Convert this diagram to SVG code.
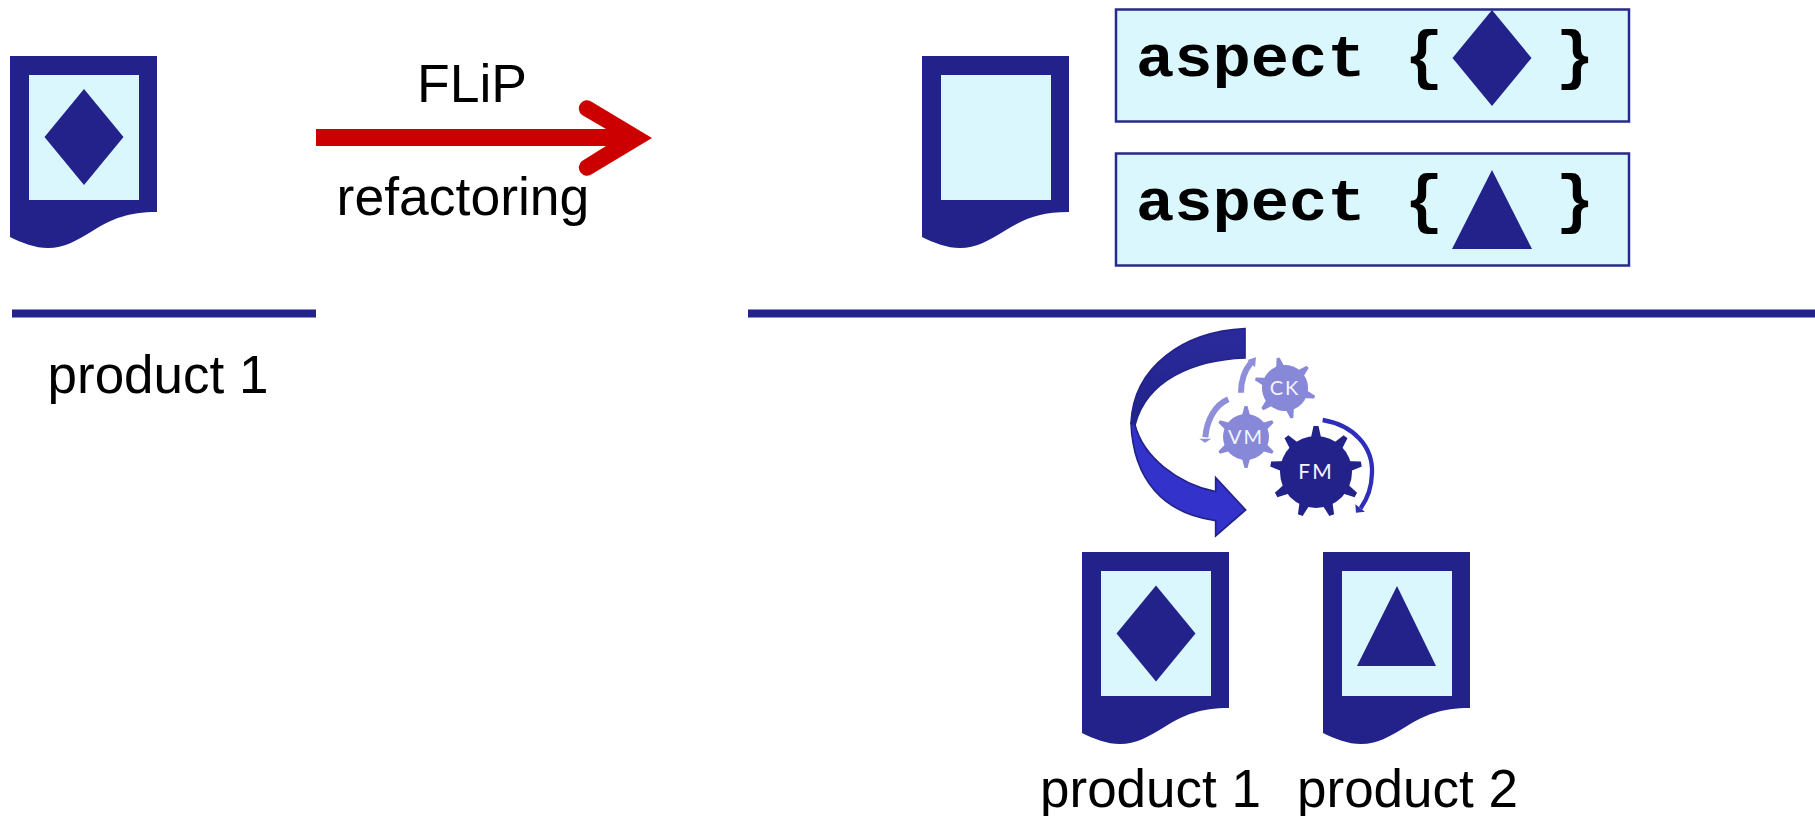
<svg xmlns="http://www.w3.org/2000/svg" xmlns:xlink="http://www.w3.org/1999/xlink" width="1815" height="816" viewBox="0 0 1815 816">
<style>
.navy{fill:#22228a}
.light{fill:#d9f7fc}
.label{font-family:"Liberation Sans",Arial,sans-serif;font-size:53px;fill:#000}
.code{font-family:"Liberation Mono","Courier New",monospace;font-weight:bold;font-size:59px;fill:#000}
.brace{font-family:"Liberation Mono","Courier New",monospace;font-weight:bold;font-size:64px;fill:#000;text-anchor:middle}
.box{fill:#d9f7fc;stroke:#28288f;stroke-width:2.5}
.gt{font-family:"Lato",sans-serif;fill:#f4f4ff;text-anchor:middle;letter-spacing:2px}
.sm{fill:none}
</style>
<defs>
<g id="doc">
<path class="navy" d="M0 0H147V156C118 156 102 163 84 174C66 185 54 192 38 192C25 192 12 187 0 181Z"/>
<rect class="light" x="19" y="19" width="110" height="125"/>
</g>
<polygon id="diamond" class="navy" points="0,-48 39.500,0 0,48 -39.500,0"/>
<polygon id="tooth" points="-6,-30 -2.500,-46 2.500,-46 6,-30"/>
<g id="gear9">
<circle r="36"/>
<use xlink:href="#tooth"/><use xlink:href="#tooth" transform="rotate(40)"/><use xlink:href="#tooth" transform="rotate(80)"/><use xlink:href="#tooth" transform="rotate(120)"/><use xlink:href="#tooth" transform="rotate(160)"/><use xlink:href="#tooth" transform="rotate(200)"/><use xlink:href="#tooth" transform="rotate(240)"/><use xlink:href="#tooth" transform="rotate(280)"/><use xlink:href="#tooth" transform="rotate(320)"/>
</g>
<polygon id="tooth6" points="-5,-18 -1.500,-31 1.500,-31 5,-18"/>
<g id="gear6">
<circle r="23"/>
<use xlink:href="#tooth6"/><use xlink:href="#tooth6" transform="rotate(60)"/><use xlink:href="#tooth6" transform="rotate(120)"/><use xlink:href="#tooth6" transform="rotate(180)"/><use xlink:href="#tooth6" transform="rotate(240)"/><use xlink:href="#tooth6" transform="rotate(300)"/>
</g>
<linearGradient id="bandA" x1="0" y1="0" x2="0" y2="1"><stop offset="0" stop-color="#2a2a9c"/><stop offset="1" stop-color="#22228a"/></linearGradient>
</defs>
<g id="connectors">
<rect class="navy" x="12" y="309.500" width="304" height="8"/>
<rect class="navy" x="748" y="309.500" width="1067" height="8"/>
<path fill="#cc0000" d="M316 129H606L582 115A8.200 8.200 0 0 1 592 102L652 138L592 174A8.200 8.200 0 0 1 582 161L606 146H316Z"/>
</g>
<g id="product-left">
<use xlink:href="#doc" transform="translate(10,56)"/>
<use xlink:href="#diamond" transform="translate(84,137)"/>
<text class="label" x="47.500" y="393">product 1</text>
</g>
<g id="label-flip">
<text class="label" x="472" y="102" text-anchor="middle" style="font-size:53.500px">FLiP</text>
<text class="label" x="463" y="215" text-anchor="middle" style="font-size:53.500px">refactoring</text>
</g>
<g id="base-doc">
<use xlink:href="#doc" transform="translate(922,56)"/>
</g>
<g id="aspect-1">
<rect class="box" x="1116" y="9.500" width="513" height="112"/>
<text class="code" transform="translate(1136,76) scale(1.08,1)">aspect</text>
<text class="brace" x="1424" y="77">{</text>
<use xlink:href="#diamond" transform="translate(1492,58)"/>
<text class="brace" x="1575" y="77">}</text>
</g>
<g id="aspect-2">
<rect class="box" x="1116" y="153.500" width="513" height="112"/>
<text class="code" transform="translate(1136,220) scale(1.08,1)">aspect</text>
<text class="brace" x="1424" y="221">{</text>
<polygon class="navy" points="1492,170 1532,249 1452,249"/>
<text class="brace" x="1575" y="221">}</text>
</g>
<g id="generator" transform="translate(1100,310) scale(0.3333)">
<path fill="url(#bandA)" stroke="#22228a" stroke-width="5" d="M435 56C250 65 100 170 93 340L105 345C140 210 280 150 435 144Z"/>
<path fill="#3333cc" stroke="#22228a" stroke-width="5" d="M93 340C100 510 190 610 347 632V678L437 600L347 503V545C230 520 130 440 105 345Z"/>
<path class="sm" stroke="#8e8edb" stroke-width="18" d="M423 248C423 210 435 180 453 158"/>
<polygon fill="#8e8edb" points="443,150 468,142 465,172"/>
<path class="sm" stroke="#8e8edb" stroke-width="18" d="M385 268C345 285 320 330 316 382"/>
<polygon fill="#8e8edb" points="298,386 334,386 315,398"/>
<path class="sm" stroke="#2e2ebb" stroke-width="13" d="M668 330C760 345 820 410 816 490C815 530 800 570 782 595"/>
<polygon fill="#2e2ebb" points="766,583 795,605 768,608"/>
</g>
<g id="gear-ck" fill="#8888d8">
<use xlink:href="#gear6" transform="translate(1285,388) rotate(-13)"/>
<text class="gt" x="1285" y="395" font-size="20">CK</text>
</g>
<g id="gear-vm" fill="#8888d8">
<use xlink:href="#gear6" transform="translate(1246,437)"/>
<text class="gt" x="1246" y="444" font-size="20">VM</text>
</g>
<g id="gear-fm" fill="#22228a">
<use xlink:href="#gear9" transform="translate(1316,472)"/>
<text class="gt" x="1316" y="479" font-size="21">FM</text>
</g>
<g id="product-1">
<use xlink:href="#doc" transform="translate(1082,552)"/>
<use xlink:href="#diamond" transform="translate(1156,633.500)"/>
<text class="label" x="1040" y="807">product 1</text>
</g>
<g id="product-2">
<use xlink:href="#doc" transform="translate(1323,552)"/>
<polygon class="navy" points="1397,586 1436,666 1357,666"/>
<text class="label" x="1297" y="807">product 2</text>
</g>
</svg>
